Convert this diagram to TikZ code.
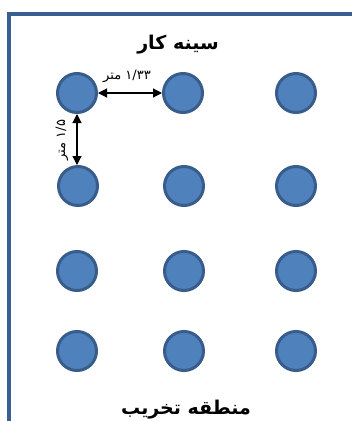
\documentclass[tikz,border=0pt]{standalone}
\usepackage{fontspec}
\usetikzlibrary{arrows.meta}
\newfontfamily\arabicfont[Script=Arabic]{DejaVu Sans}
\TeXXeTstate=1
\definecolor{frameblue}{HTML}{3A5F8F}
\definecolor{holefill}{HTML}{4F81BD}
\definecolor{holeline}{HTML}{385D8A}
\tikzset{
  hole/.style={circle, draw=holeline, fill=holefill, line width=3pt, minimum size=39pt, inner sep=0pt},
  dimarrow/.style={line width=1.2pt, {Triangle[length=9pt,width=9pt]}-{Triangle[length=9pt,width=9pt]}},
  lbl/.style={inner sep=0pt, font=\arabicfont}
}
\begin{document}
\begin{tikzpicture}[x=1pt,y=-1pt]
\clip (0,0) rectangle (352,421);
\fill[white] (0,0) rectangle (352,421);
\draw[frameblue, line width=4pt] (9,440) -- (9,14) -- (370,14);
% holes
\node[hole] (c11) at (77,93) {};
\node[hole] (c12) at (183,93) {};
\node[hole] (c13) at (296,93) {};
\node[hole] (c21) at (78,186) {};
\node[hole] (c22) at (184,186) {};
\node[hole] (c23) at (296,186) {};
\node[hole] (c31) at (77,271) {};
\node[hole] (c32) at (184,271) {};
\node[hole] (c33) at (296,271) {};
\node[hole] (c41) at (77,351) {};
\node[hole] (c42) at (184,351) {};
\node[hole] (c43) at (296,351) {};
% titles
\node[lbl, font=\arabicfont\bfseries\fontsize{19}{22}\selectfont] (top) at (178,45) {\beginR سینه کار\endR};
\node[lbl, font=\arabicfont\bfseries\fontsize{19}{22}\selectfont] (bottom) at (186,410) {\beginR منطقه تخریب\endR};
% dimensions
\draw[dimarrow] (c11.east) -- (c12.west);
\draw[dimarrow] (c11.south) -- (c11.south |- c21.north);
\node[lbl, font=\arabicfont\fontsize{13}{15}\selectfont] (hl) at (127,76) {\beginR ۱/۳۳ متر\endR};
\node[lbl, font=\arabicfont\fontsize{13}{15}\selectfont, rotate=90] (vl) at (62,140) {\beginR ۱/۵ متر\endR};
\end{tikzpicture}
\end{document}
